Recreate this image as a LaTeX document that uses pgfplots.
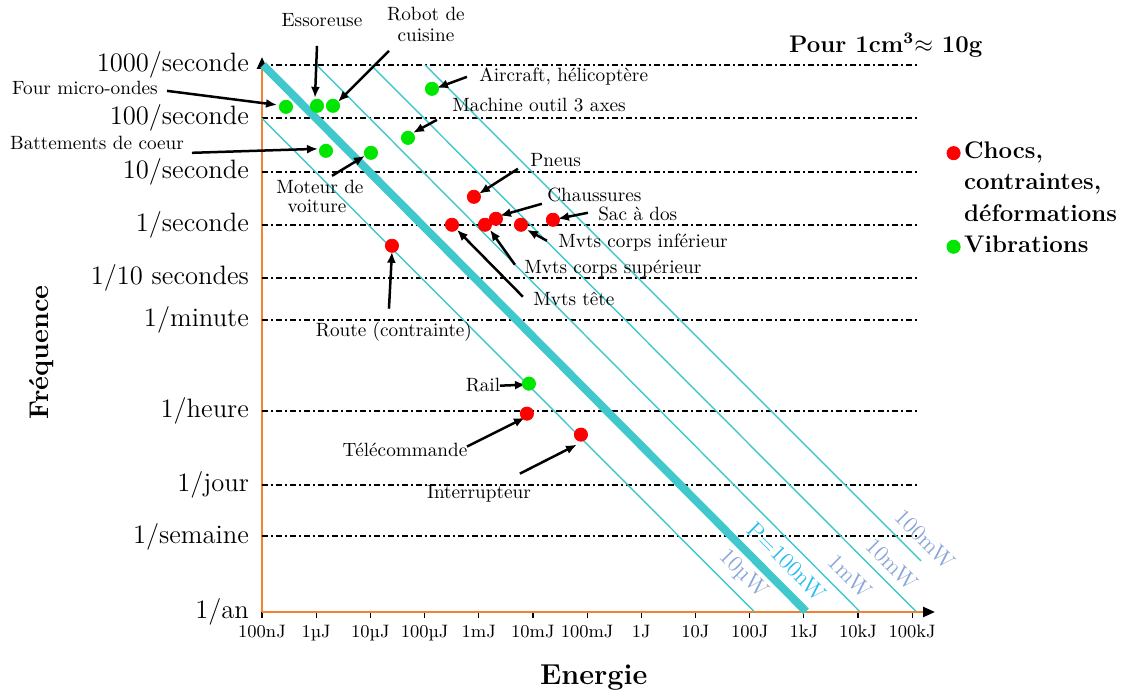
\documentclass[border=0pt]{standalone}
\usepackage{pgfplots}
\pgfplotsset{compat=1.18}
\usetikzlibrary{arrows.meta}
\definecolor{orangeaxe}{RGB}{242,130,48}
\definecolor{cyanligne}{RGB}{64,200,205}
\definecolor{bleulabel}{RGB}{140,165,215}
\definecolor{bleuP}{RGB}{40,190,240}
\definecolor{vert}{RGB}{0,230,0}
\tikzset{
  fleche/.style={-{Latex[length=5.5pt,width=4.5pt]}, line width=1.25pt, black},
  annot/.style={font=\fontsize{9.6}{11.5}\selectfont, inner sep=1pt},
  puiss/.style={rotate=-45, font=\fontsize{11.5}{13}\selectfont, inner sep=0pt}
}

\begin{document}
\begin{tikzpicture}
\useasboundingbox (-131pt,-41.5pt) rectangle (429.5pt,306pt);
\begin{axis}[
  scale only axis, width=336.5pt, height=277.5pt,
  at={(0,0)}, anchor=south west,
  xmin=-7, xmax=5.42, ymin=-7.27, ymax=3.15,
  axis lines=left,
  axis line style={draw=orangeaxe, line width=1.2pt},
  x axis line style={-{Triangle[length=6pt,width=5pt,color=black]}},
  y axis line style={-{Triangle[length=6pt,width=5pt,color=black]}},
  xtick={-7,-6,-5,-4,-3,-2,-1,0,1,2,3,4,5},
  xticklabels={100nJ,1µJ,10µJ,100µJ,1mJ,10mJ,100mJ,1J,10J,100J,1kJ,10kJ,100kJ},
  ytick={-7.27,-5.85,-4.88,-3.5,-1.78,-1,0,1,2,3},
  yticklabels={1/an,1/semaine,1/jour,1/heure,1/minute,1/10 secondes,1/seconde,10/seconde,100/seconde,1000/seconde},
  tick align=outside, major tick length=3pt,
  xtick style={black, line width=0.6pt},
  ytick style={draw=none},
  xticklabel style={font=\small},
  yticklabel style={font=\fontsize{13.3}{16}\selectfont},
  xlabel={Energie},
  xlabel style={font=\bfseries\Large, at={(axis description cs:0.493,-0.119)}, anchor=center},
  ylabel={Fréquence},
  ylabel style={font=\bfseries\fontsize{13.5}{16}\selectfont, at={(axis description cs:-0.327,0.468)}, anchor=center},
  clip=false,
  legend cell align=left,
  legend style={at={(axis cs:5.33,1.72)}, anchor=north west, draw=none, fill=none,
    font=\bfseries\fontsize{12}{14}\selectfont, row sep=0pt,
    nodes={text height=8.6pt, text depth=3pt, inner sep=2pt}},
]
% lignes de niveau
\pgfplotsinvokeforeach{-5.85,-4.88,-3.5,-1.78,-1,0,1,2,3}{
  \addplot[forget plot, black, line width=1pt, dash pattern=on 3pt off 1.5pt on 1pt off 1.5pt]
    coordinates {(-7,#1) (5.14,#1)};
}
% droites de puissance
\addplot[forget plot, cyanligne, line width=4pt] coordinates {(-6.98,3.0) (3.04,-7.26)};
\addplot[forget plot, cyanligne, line width=0.7pt] coordinates {(-7,2.0) (2.08,-7.26)};
\addplot[forget plot, cyanligne, line width=0.7pt] coordinates {(-5.99,3.0) (4.03,-7.26)};
\addplot[forget plot, cyanligne, line width=0.7pt] coordinates {(-4.99,3.0) (5.07,-7.26)};
\addplot[forget plot, cyanligne, line width=0.7pt] coordinates {(-3.99,3.0) (5.16,-6.31)};

% chocs, contraintes, deformations
\addplot[only marks, mark=*, mark size=3.3pt, color=red] coordinates {
  (-3.089,0.525) (-2.683,0.113) (-2.886,0) (-3.494,0) (-2.221,0)
  (-1.631,0.094) (-4.601,-0.394) (-2.111,-3.546) (-1.114,-3.940)
};
\addlegendentry{Chocs,}
\addlegendimage{empty legend}\addlegendentry{contraintes,}
\addlegendimage{empty legend}\addlegendentry{déformations}
% vibrations
\addplot[only marks, mark=*, mark size=3.3pt, color=vert] coordinates {
  (-6.557,2.214) (-5.985,2.233) (-5.690,2.233) (-3.863,2.552)
  (-4.306,1.632) (-5.819,1.388) (-4.989,1.351) (-2.074,-2.983)
};
\addlegendentry{Vibrations}

% etiquettes des droites
\node[puiss, bleulabel] at (axis cs:1.875,-6.567) {10µW};
\node[puiss, bleuP] at (axis cs:2.686,-6.323) {P=100nW};
\node[puiss, bleulabel] at (axis cs:3.849,-6.604) {1mW};
\node[puiss, bleulabel] at (axis cs:4.624,-6.379) {10mW};
\node[puiss, bleulabel] at (axis cs:5.232,-5.910) {100mW};

% annotations
\node[annot] at (axis cs:-10.266,2.570) {Four micro-ondes};
\draw[fleche] (axis cs:-8.753,2.514) -- (axis cs:-6.723,2.251);
\node[annot] at (axis cs:-5.893,3.846) {Essoreuse};
\draw[fleche] (axis cs:-5.985,3.358) -- (axis cs:-6.022,2.383);
\node[annot] at (axis cs:-3.974,3.95) {Robot de};
\node[annot] at (axis cs:-3.974,3.56) {cuisine};
\draw[fleche] (axis cs:-4.657,3.265) -- (axis cs:-5.598,2.308);
\node[annot, anchor=west] at (axis cs:-3.033,2.777) {Aircraft, hélicoptère};
\draw[fleche] (axis cs:-3.218,2.777) -- (axis cs:-3.771,2.570);
\node[annot, anchor=west] at (axis cs:-3.531,2.251) {Machine outil 3 axes};
\draw[fleche] (axis cs:-3.771,1.970) -- (axis cs:-4.214,1.726);
\node[annot] at (axis cs:-10.044,1.538) {Battements de coeur};
\draw[fleche] (axis cs:-8.292,1.351) -- (axis cs:-5.967,1.426);
\node[annot] at (axis cs:-5.930,0.713) {Moteur de};
\node[annot] at (axis cs:-5.985,0.356) {voiture};
\draw[fleche] (axis cs:-5.708,0.919) -- (axis cs:-5.100,1.295);
\node[annot, anchor=west] at (axis cs:-2.092,1.220) {Pneus};
\draw[fleche] (axis cs:-2.277,1.051) -- (axis cs:-2.996,0.582);
\node[annot, anchor=west] at (axis cs:-1.779,0.563) {Chaussures};
\draw[fleche] (axis cs:-1.834,0.394) -- (axis cs:-2.609,0.169);
\node[annot, anchor=west] at (axis cs:-0.838,0.206) {Sac à dos};
\draw[fleche] (axis cs:-0.985,0.225) -- (axis cs:-1.539,0.113);
\node[annot, anchor=west] at (axis cs:-1.576,-0.338) {Mvts corps inférieur};
\draw[fleche] (axis cs:-1.742,-0.300) -- (axis cs:-2.111,-0.094);
\node[annot, anchor=west] at (axis cs:-2.203,-0.826) {Mvts corps supérieur};
\draw[fleche] (axis cs:-2.332,-0.750) -- (axis cs:-2.793,-0.094);
\node[annot, anchor=west] at (axis cs:-2.037,-1.388) {Mvts tête};
\draw[fleche] (axis cs:-2.185,-1.351) -- (axis cs:-3.402,-0.094);
\node[annot] at (axis cs:-4.565,-2.008) {Route (contrainte)};
\draw[fleche] (axis cs:-4.657,-1.576) -- (axis cs:-4.601,-0.507);
\node[annot] at (axis cs:-2.922,-3.002) {Rail};
\draw[fleche] (axis cs:-2.609,-3.021) -- (axis cs:-2.129,-3.002);
\node[annot] at (axis cs:-4.362,-4.221) {Télécommande};
\draw[fleche] (axis cs:-3.218,-4.165) -- (axis cs:-2.148,-3.621);
\node[annot] at (axis cs:-2.996,-5.047) {Interrupteur};
\draw[fleche] (axis cs:-2.240,-4.672) -- (axis cs:-1.188,-4.128);
\node[font=\bfseries\large] at (axis cs:4.513,3.377) {Pour 1cm\textsuperscript{3}$\approx$ 10g};
\end{axis}
\end{tikzpicture}
\end{document}
